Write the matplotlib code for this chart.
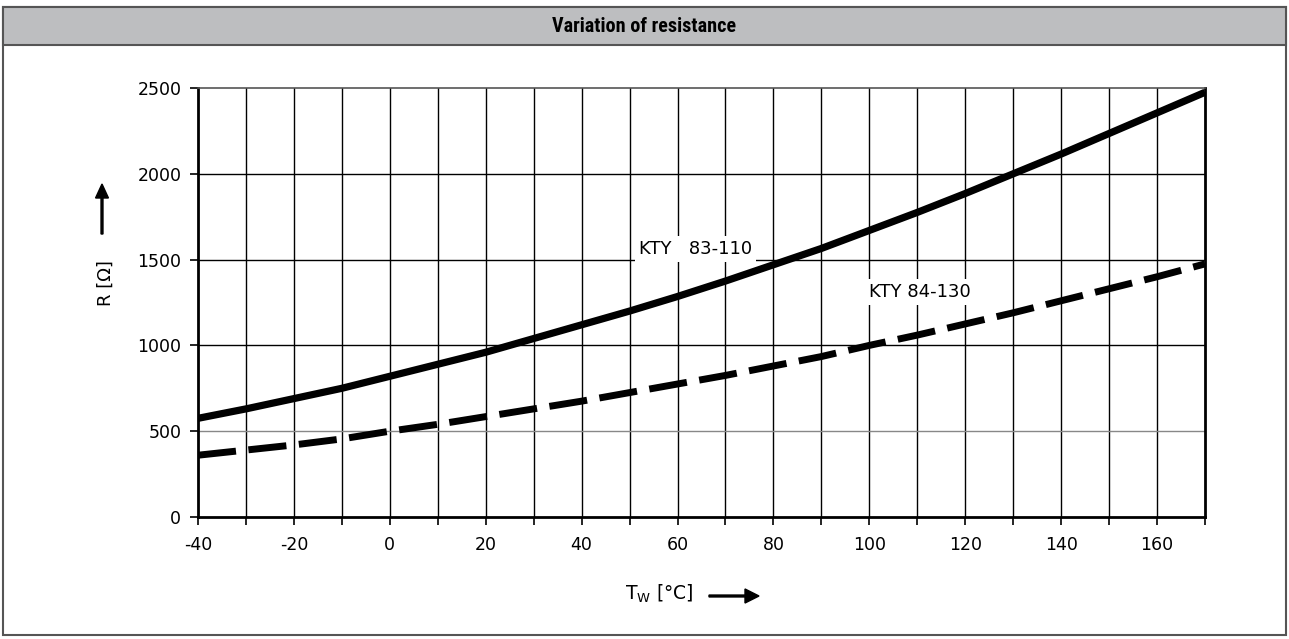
import matplotlib
matplotlib.use("Agg")
import matplotlib.pyplot as plt
from matplotlib.patches import Rectangle, FancyArrow

# Temperatur in °C
temperatura = [-40, -30, -20, -10, 0, 10, 20, 30, 40, 50, 60, 70, 80,
               90, 100, 110, 120, 130, 140, 150, 160, 170]

# Widerstand in Ohm
kty83_110 = [575, 630, 690, 750, 820, 890, 960, 1040, 1120, 1200, 1285,
             1375, 1470, 1565, 1670, 1775, 1885, 2000, 2115, 2235, 2355, 2475]
kty84_130 = [360, 390, 420, 455, 500, 540, 585, 630, 675, 725, 775,
             825, 880, 935, 1000, 1060, 1125, 1190, 1260, 1330, 1400, 1475]

x_ticks = [-40, -20, 0, 20, 40, 60, 80, 100, 120, 140, 160]
y_ticks = [0, 500, 1000, 1500, 2000, 2500]

W, H = 1289, 639
fig = plt.figure(figsize=(W / 100, H / 100), dpi=100)


def fx(px):
    return px / W


def fy(py):
    return 1 - py / H


# ── Rahmen und Kopfzeile ──────────────────────────────────────
fig.patches.append(Rectangle((fx(3), fy(635)), fx(1283), (635 - 7) / H,
                             transform=fig.transFigure, facecolor='white',
                             edgecolor='#555555', linewidth=1.5, zorder=-2))
fig.patches.append(Rectangle((fx(3), fy(45)), fx(1283), 38 / H,
                             transform=fig.transFigure, facecolor='#bdbec0',
                             edgecolor='#555555', linewidth=1.5, zorder=-1))
fig.text(0.5, fy(26), 'Variation of resistance', ha='center', va='center',
         fontsize=14.5, fontweight='bold',
         family=['Liberation Sans Narrow', 'Roboto Condensed', 'Roboto'])

# ── Diagramm ──────────────────────────────────────────────────
ax = fig.add_axes([fx(198), fy(517), fx(1205 - 198), (517 - 88) / H])
ax.set_zorder(2)

ax.plot(temperatura, kty83_110, color='black', linewidth=5.2,
        solid_capstyle='butt', zorder=3)
ax.plot(temperatura, kty84_130, color='black', linewidth=5,
        dashes=(5.5, 1.8), dash_capstyle='butt', zorder=3)

ax.set_xlim(-40, 170)
ax.set_ylim(0, 2500)

for xv in range(-30, 170, 10):
    ax.axvline(xv, color='black', linewidth=1.0, zorder=1)
for yv in [1000, 1500, 2000]:
    ax.axhline(yv, color='black', linewidth=1.0, zorder=1)
ax.axhline(500, color='#888888', linewidth=1.0, zorder=1)

ax.set_xticks(range(-40, 171, 10))
ax.set_xticklabels([str(v) if v in x_ticks else '' for v in range(-40, 171, 10)])
ax.set_yticks(y_ticks)
ax.tick_params(axis='both', direction='out', length=6, width=1.2,
               labelsize=12.5, colors='black')
ax.tick_params(axis='x', pad=8)
ax.tick_params(axis='y', pad=6)

for side in ['left', 'right', 'bottom']:
    ax.spines[side].set_linewidth(2)
ax.spines['top'].set_linewidth(1.2)
ax.spines['top'].set_color('#555555')

ax.text(52, 1560, 'KTY   83-110', fontsize=13, ha='left', va='center',
        zorder=2, bbox=dict(facecolor='white', edgecolor='none', pad=3))
ax.text(100, 1310, 'KTY 84-130', fontsize=13, ha='left', va='center',
        zorder=2, bbox=dict(facecolor='white', edgecolor='none', pad=3))

# ── Achsenbeschriftungen mit Pfeilen ─────────────────────────
fig.text(fx(106), fy(283), 'R [Ω]', rotation=90, ha='center', va='center',
         fontsize=13)
fig.patches.append(FancyArrow(
    fx(102), fy(234), 0, 50 / H, width=0.0015, head_width=0.01,
    head_length=14 / H, length_includes_head=True, color='black',
    transform=fig.transFigure))

fig.text(fx(659), fy(594), r'T$_\mathregular{W}$ [°C]', ha='center',
         va='center', fontsize=13.5)
fig.patches.append(FancyArrow(
    fx(709), fy(596), 50 / W, 0, width=0.003, head_width=0.022,
    head_length=14 / W, length_includes_head=True, color='black',
    transform=fig.transFigure))

fig.savefig('out.png', dpi=100)
